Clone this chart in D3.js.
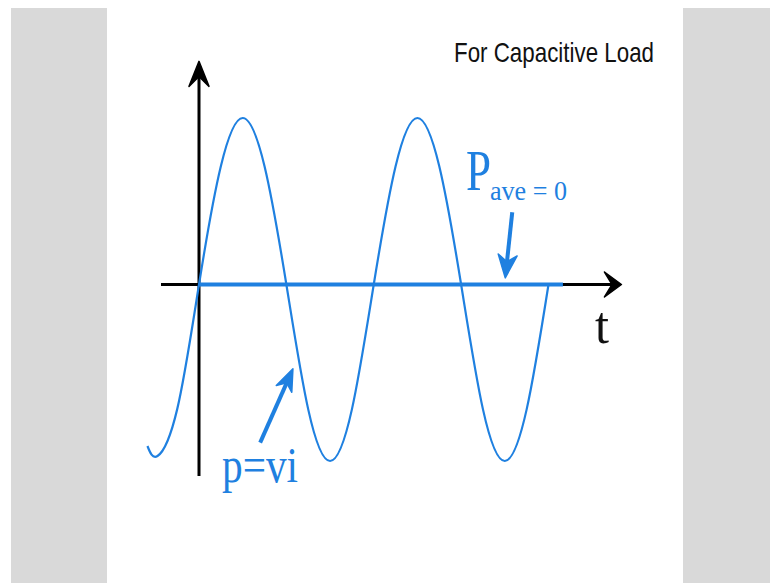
<!DOCTYPE html>
<html>
<head>
<meta charset="utf-8">
<script src="https://cdn.jsdelivr.net/npm/d3@7"></script>
<style>
  body { margin: 0; background: #fff; }
</style>
</head>
<body>
<svg id="chart" width="770" height="583"></svg>
<script>
// time in quarter periods, power in units of the peak value
var tValues = [-1.18, -0.95, -0.5, 0, 0.5, 1, 1.5, 2, 2.5, 3, 3.5, 4, 4.5, 5, 5.5, 6, 6.5, 7, 7.5, 8];
var pValues = [-0.97, -1.03, -0.75, 0, 0.71, 1, 0.71, 0, -0.75, -1.06, -0.75, 0, 0.71, 1, 0.71, 0, -0.75, -1.06, -0.75, 0];
var pAverage = [0, 8.33];
var axisT = [-0.87, 9.67];
var axisP = [-1.15, 1.34];

var title = "For Capacitive Load";
var labelP = "P", labelAve = "ave = 0", labelT = "t", labelPvi = "p=vi";

function drawChart() {
  var svg = d3.select("#chart");

  // grey side panels of the slide
  svg.append("rect").attr("x", 11).attr("y", 8).attr("width", 96).attr("height", 575).attr("fill", "#d9d9d9");
  svg.append("rect").attr("x", 683).attr("y", 8).attr("width", 87).attr("height", 575).attr("fill", "#d9d9d9");

  var x = d3.scaleLinear().domain([0, 8]).range([199, 548.5]);
  var y = d3.scaleLinear().domain([0, 1]).range([284.5, 118]);

  var blue = "#1f80e0";

  function arrow(x1, y1, x2, y2, color, width, headLen, headW, notch) {
    var dx = x2 - x1, dy = y2 - y1, len = Math.sqrt(dx * dx + dy * dy);
    var ux = dx / len, uy = dy / len, nx = -uy, ny = ux;
    var bx = x2 - ux * headLen, by = y2 - uy * headLen;
    var mx = x2 - ux * headLen * notch, my = y2 - uy * headLen * notch;
    svg.append("line")
      .attr("x1", x1).attr("y1", y1)
      .attr("x2", mx).attr("y2", my)
      .attr("stroke", color).attr("stroke-width", width);
    svg.append("path")
      .attr("d", "M" + x2 + "," + y2 +
        "L" + (bx + nx * headW) + "," + (by + ny * headW) +
        "L" + mx + "," + my +
        "L" + (bx - nx * headW) + "," + (by - ny * headW) + "Z")
      .attr("fill", color)
      .attr("stroke", color)
      .attr("stroke-width", 1.5)
      .attr("stroke-linejoin", "round");
  }

  // axes
  arrow(x(axisT[0]), y(0), x(axisT[1]), y(0), "#000", 3, 17, 12.5, 0.55);
  arrow(x(0), y(axisP[0]), x(0), y(axisP[1]), "#000", 3, 25, 10, 0.6);

  // p = vi wave
  var line = d3.line()
    .x(function (d) { return x(d[0]); })
    .y(function (d) { return y(d[1]); })
    .curve(d3.curveNatural);

  svg.append("path")
    .datum(d3.zip(tValues, pValues))
    .attr("d", line)
    .attr("fill", "none")
    .attr("stroke", blue)
    .attr("stroke-width", 2.2);

  // average power line
  svg.append("line")
    .attr("x1", x(pAverage[0])).attr("y1", y(0))
    .attr("x2", x(pAverage[1])).attr("y2", y(0))
    .attr("stroke", blue).attr("stroke-width", 4);

  // annotation arrows
  arrow(x(7.17), y(0.434), x(7.01), y(0.04), blue, 4, 23, 9.5, 0.7);
  arrow(x(1.4), y(-0.95), x(2.15), y(-0.506), blue, 4, 22, 8.5, 0.7);

  // texts
  svg.append("text")
    .attr("x", 454).attr("y", 61.5)
    .attr("font-family", "Liberation Sans, Arial, sans-serif")
    .attr("font-size", 28)
    .attr("textLength", 200).attr("lengthAdjust", "spacingAndGlyphs")
    .attr("fill", "#111")
    .text(title);

  var serif = "Liberation Serif, Times New Roman, serif";
  svg.append("text")
    .attr("x", 466).attr("y", 190)
    .attr("font-family", serif).attr("font-size", 56)
    .attr("textLength", 25).attr("lengthAdjust", "spacingAndGlyphs")
    .attr("fill", blue).text(labelP);
  svg.append("text")
    .attr("x", 490).attr("y", 200)
    .attr("font-family", serif).attr("font-size", 27)
    .attr("textLength", 77).attr("lengthAdjust", "spacingAndGlyphs")
    .attr("fill", blue).text(labelAve);
  svg.append("text")
    .attr("x", 595).attr("y", 343)
    .attr("font-family", serif).attr("font-size", 52)
    .attr("textLength", 14).attr("lengthAdjust", "spacingAndGlyphs")
    .attr("fill", "#111").text(labelT);
  svg.append("text")
    .attr("x", 222).attr("y", 482)
    .attr("font-family", serif).attr("font-size", 50)
    .attr("textLength", 76).attr("lengthAdjust", "spacingAndGlyphs")
    .attr("fill", blue).text(labelPvi);
}

drawChart();
</script>
</body>
</html>
